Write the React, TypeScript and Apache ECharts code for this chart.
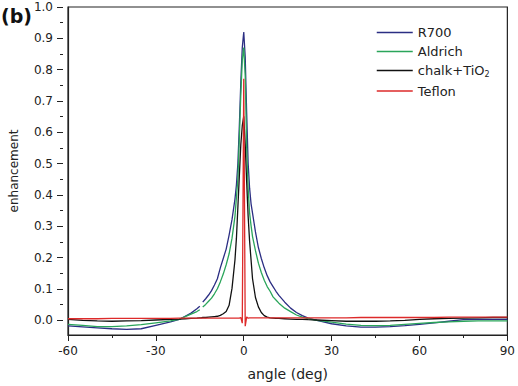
import React, { useEffect, useRef } from "react";
import * as echarts from "echarts";

const angles = [-60, -55, -50, -45, -40, -35, -30, -25, -22, -20, -18, -16, -15, -14.5, -14, -13, -12, -11, -10, -9, -8, -7, -6, -5, -4, -3, -2.5, -2, -1.5, -1, -0.5, 0, 0.5, 1, 1.5, 2, 2.5, 3, 4, 5, 6, 7, 8, 9, 10, 11, 12, 14, 16, 18, 20, 22, 25, 30, 35, 40, 45, 50, 55, 60, 65, 70, 75, 80, 85, 90];

const r700 = [-0.021, -0.024, -0.027, -0.03, -0.032, -0.03, -0.019, -0.008,
  0.0, 0.01, 0.02, 0.034, 0.042, null, 0.055, 0.066, 0.078, 0.092, 0.11,
  0.13, 0.165, 0.195, 0.225, 0.27, 0.32, 0.385,
  0.43, 0.5, 0.62, 0.76, 0.87, 0.92, 0.84, 0.66, 0.5, 0.42, 0.37,
  0.34, 0.28, 0.23, 0.195, 0.165, 0.14, 0.12, 0.105, 0.09, 0.077,
  0.055, 0.036, 0.022, 0.012, 0.004, -0.003,
  -0.014, -0.021, -0.025, -0.025, -0.023, -0.02, -0.016, -0.011, -0.006, -0.001, 0.0, 0.0, 0.0];

const aldrich = [-0.016, -0.019, -0.023, -0.023, -0.021, -0.017, -0.011, -0.005,
  0.0, 0.009, 0.017, 0.025, 0.031, null, 0.04, 0.048, 0.058, 0.068, 0.082,
  0.098, 0.12, 0.145, 0.175, 0.21, 0.26, 0.33,
  0.39, 0.45, 0.58, 0.72, 0.83, 0.87, 0.78, 0.55, 0.42, 0.34, 0.3,
  0.265, 0.22, 0.18, 0.15, 0.125, 0.105, 0.09, 0.072, 0.062, 0.052,
  0.036, 0.025, 0.014, 0.007, 0.002, -0.003,
  -0.009, -0.015, -0.019, -0.02, -0.019, -0.016, -0.013, -0.01, -0.008, -0.006, -0.005, -0.005, -0.005];

const chalkTiO2 = [0.0, -0.003, -0.005, -0.006, -0.005, -0.004, -0.002, 0.0,
  0.001, 0.002, 0.003, 0.004, 0.005, 0.005, 0.006, 0.006, 0.007, 0.008, 0.009,
  0.01, 0.013, 0.018, 0.025, 0.045, 0.1, 0.19,
  0.26, 0.36, 0.46, 0.56, 0.62, 0.65, 0.56, 0.44, 0.33, 0.25, 0.19,
  0.13, 0.07, 0.04, 0.022, 0.012, 0.007, 0.005, 0.004, 0.003, 0.003,
  0.002, 0.001, 0.0, 0.0, -0.001, -0.002,
  -0.004, -0.006, -0.006, -0.006, -0.005, -0.003, 0.0, 0.002, 0.003, 0.004, 0.005, 0.006, 0.006];

const teflon = [0.002, 0.002, 0.002, 0.003, 0.003, 0.003, 0.003, 0.003,
  0.004, 0.004, 0.004, 0.004, 0.004, 0.004, 0.004, 0.004, 0.004, 0.004, 0.004,
  0.004, 0.004, 0.004, 0.004, 0.004, 0.004, 0.004,
  0.004, 0.004, 0.004, 0.006, -0.012, 0.77, -0.022, 0.008, 0.004, 0.005, 0.005,
  0.005, 0.005, 0.005, 0.005, 0.005, 0.005, 0.005, 0.005, 0.005, 0.005,
  0.005, 0.005, 0.005, 0.005, 0.005, 0.005,
  0.005, 0.005, 0.006, 0.006, 0.006, 0.006, 0.006, 0.006, 0.007, 0.007, 0.007, 0.007, 0.007];

const seriesNames = ["R700", "Aldrich", "chalk+TiO2", "Teflon"];
const seriesColors = ["#2b2e83", "#2aa55a", "#111111", "#dd2a2a"];
const xTicks = { min: -60, max: 90, interval: 30 };
const yTicks = { min: 0, max: 1, interval: 0.1 };

const FONT = "'DejaVu Sans', 'Liberation Sans', Arial, sans-serif";

export default function App() {
  const ref = useRef<HTMLDivElement>(null);
  useEffect(() => {
    if (!ref.current) return;
    const chart = echarts.init(ref.current, undefined, { renderer: "svg" });
    const all = [r700, aldrich, chalkTiO2, teflon];
    const series = all.map((arr, k) => ({
      name: seriesNames[k],
      type: "line",
      xAxisIndex: 0,
      yAxisIndex: 0,
      symbol: "none",
      showSymbol: false,
      connectNulls: false,
      lineStyle: { color: seriesColors[k], width: 1.3 },
      itemStyle: { color: seriesColors[k] },
      data: angles.map((a, i) => [a, arr[i] === null ? "-" : arr[i]]),
      z: 2 + k,
    }));
    chart.setOption({
      animation: false,
      backgroundColor: "#ffffff",
      textStyle: { fontFamily: FONT },
      grid: [
        { left: 63, right: 8, top: 7, bottom: 50, show: true, borderColor: "#222", borderWidth: 1.2, backgroundColor: "transparent" },
        { left: 63, right: 8, top: 7, bottom: 65.67, show: false },
      ],
      xAxis: [
        {
          gridIndex: 0,
          type: "value",
          min: xTicks.min,
          max: xTicks.max,
          interval: xTicks.interval,
          name: "angle (deg)",
          nameLocation: "middle",
          nameGap: 32,
          nameTextStyle: { fontSize: 14, color: "#222", fontFamily: FONT },
          axisLine: { show: true, onZero: false, lineStyle: { color: "#222", width: 1.2 } },
          axisTick: { show: true, length: 6, lineStyle: { color: "#222", width: 1 } },
          minorTick: { show: true, splitNumber: 2, length: 3, lineStyle: { color: "#222", width: 1 } },
          splitLine: { show: false },
          axisLabel: { fontSize: 12, color: "#222", margin: 10, fontFamily: FONT },
        },
        {
          gridIndex: 1,
          type: "value",
          min: xTicks.min,
          max: xTicks.max,
          show: false,
          axisLine: { onZero: false },
        },
      ],
      yAxis: [
        {
          gridIndex: 0,
          type: "value",
          min: -0.05,
          max: 1,
          name: "enhancement",
          nameLocation: "middle",
          nameGap: 48,
          nameTextStyle: { fontSize: 12, color: "#222", fontFamily: FONT },
          axisLine: { show: true, onZero: false, lineStyle: { color: "#222", width: 1.2 } },
          axisTick: { show: false },
          axisLabel: { show: false },
          splitLine: { show: false },
        },
        {
          gridIndex: 1,
          type: "value",
          min: yTicks.min,
          max: yTicks.max,
          interval: yTicks.interval,
          axisLine: { show: false, onZero: false },
          axisTick: { show: true, length: 6, lineStyle: { color: "#222", width: 1 } },
          minorTick: { show: true, splitNumber: 2, length: 3, lineStyle: { color: "#222", width: 1 } },
          splitLine: { show: false },
          axisLabel: {
            fontSize: 12,
            color: "#222",
            margin: 10,
            fontFamily: FONT,
            formatter: (v: number) => v.toFixed(1),
          },
        },
      ],
      legend: {
        left: 371,
        top: 21,
        orient: "vertical",
        itemWidth: 36,
        itemHeight: 14,
        itemGap: 6,
        data: seriesNames,
        itemStyle: { opacity: 0 },
        lineStyle: { width: 1.5 },
        formatter: (name: string) => (name === "chalk+TiO2" ? "{n|chalk+TiO}{s|2}" : name),
        textStyle: {
          fontSize: 13,
          color: "#222",
          fontFamily: FONT,
          rich: {
            n: { fontSize: 13, color: "#222", fontFamily: FONT },
            s: { fontSize: 8, color: "#222", fontFamily: FONT, verticalAlign: "bottom", padding: [8, 0, 0, 0] },
          },
        },
      },
      graphic: [
        {
          type: "text",
          left: 1,
          top: 6,
          style: { text: "(b)", font: `bold 19px ${FONT}`, fill: "#111" },
        },
      ],
      series,
    });
    return () => chart.dispose();
  }, []);
  return <div ref={ref} style={{ width: 518, height: 386, position: "absolute", left: 0, top: 0 }} />;
}
